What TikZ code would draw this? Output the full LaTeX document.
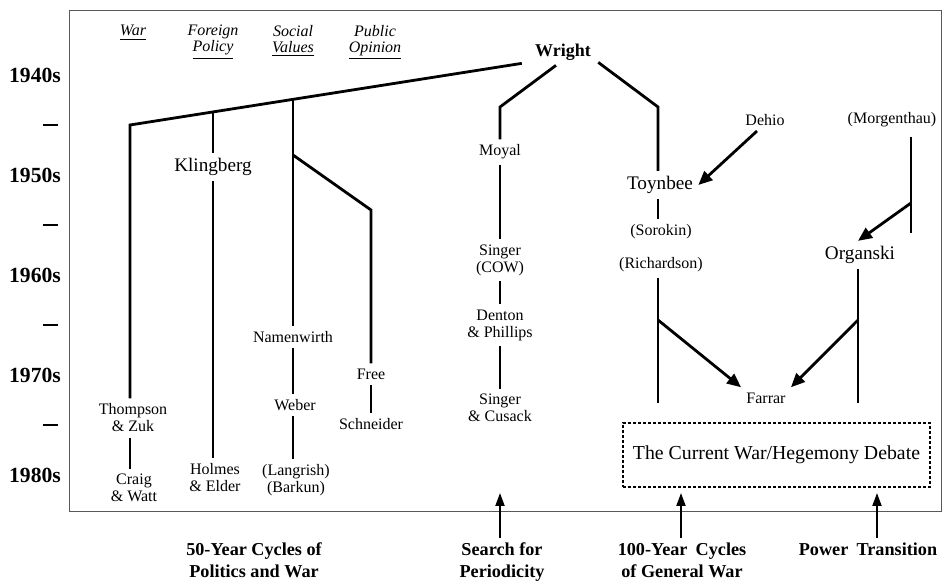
\documentclass[tikz,border=0pt]{standalone}
\usepackage{fontspec}
\setmainfont{Liberation Serif}
\usetikzlibrary{arrows.meta,calc}
\begin{document}
\begin{tikzpicture}[x=0.5pt,y=-0.5pt,
  yr/.style={font=\fontsize{10.8}{12}\selectfont\bfseries, inner sep=0pt},
  hd/.style={font=\fontsize{8}{8}\selectfont\itshape, align=center, anchor=north, inner sep=0pt},
  sm/.style={font=\fontsize{8}{8.5}\selectfont, align=center, inner sep=2.5pt},
  big/.style={font=\fontsize{9.6}{10}\selectfont, inner sep=2.5pt},
  lbl/.style={font=\fontsize{9.1}{11}\selectfont\bfseries, align=center, inner sep=2pt, anchor=north},
  frame/.style={draw=black!65, line width=0.5pt},
  ln/.style={line width=1.4pt, line join=miter},
  tick/.style={line width=1.4pt},
  arr/.style={line width=1.4pt, -{Triangle[length=7pt,width=6pt]}},
  uparr/.style={line width=1pt, -{Triangle[length=6.5pt,width=4.5pt]}},
  dbox/.style={draw, dashed, dash pattern=on 1.5pt off 1pt, line width=0.6pt, minimum width=153.5pt, minimum height=32pt, inner sep=0pt, font=\fontsize{9.9}{11}\selectfont}
]
\useasboundingbox (0,0) rectangle (942,581);
\draw[frame] (69,11) rectangle (941,512);

% decade axis
\node[yr] (y40) at (35,75) {1940s};
\node[yr] (y50) at (35,175) {1950s};
\node[yr] (y60) at (35,275) {1960s};
\node[yr] (y70) at (35,375) {1970s};
\node[yr] (y80) at (35,475) {1980s};
\foreach \t in {125,225,325,425} \draw[tick] (43,\t) -- (58,\t);

% column headers
\node[hd] (hwar) at (133,25) {\underline{War}};
\node[hd] (hfp) at (213,25) {Foreign\\\underline{Policy}};
\node[hd] (hsv) at (293,25) {Social\\\underline{Values}};
\node[hd] (hpo) at (375,25) {Public\\\underline{Opinion}};

% root
\node[font=\fontsize{9}{10}\selectfont\bfseries, inner sep=0pt, anchor=base] (wright) at (563,57) {Wright};
\coordinate (wl) at ([xshift=-6.5pt,yshift=-1pt]wright.south west);
\coordinate (ws) at ([xshift=-3.5pt,yshift=-2pt]wright.south);
\coordinate (wr) at ([xshift=3.5pt,yshift=-0.5pt]wright.south east);

% 50-year branch
\coordinate (c-war) at (130,125);
\coordinate (c-fp) at ($(c-war)!0.2117!(wl)$);
\coordinate (c-sv) at ($(c-war)!0.4158!(wl)$);
\coordinate (c-po) at (293,155);
\coordinate (c-po2) at (371,210);

\node[sm] (thompson) at (133,418) {Thompson\\\& Zuk};
\node[sm] (craig) at (134,488) {Craig\\\& Watt};
\node[big] (klingberg) at (213,167) {Klingberg};
\node[sm] (holmes) at (215,478) {Holmes\\\& Elder};
\node[sm] (namenwirth) at (293,337) {Namenwirth};
\node[sm] (weber) at (295,405) {Weber};
\node[sm] (langrish) at (296,480) {(Langrish)\\(Barkun)};
\node[sm] (free) at (371,374) {Free};
\node[sm] (schneider) at (371,424) {Schneider};

\draw[ln] (wl) -- (c-war) -- (c-war |- thompson.north);
\draw[ln] (c-war |- thompson.south) -- (c-war |- craig.north);
\draw[ln] (c-fp) -- (c-fp |- klingberg.north);
\draw[ln] (c-fp |- klingberg.south) -- (c-fp |- holmes.north);
\draw[ln] (c-sv) -- (c-sv |- namenwirth.north);
\draw[ln] (c-sv |- namenwirth.south) -- (c-sv |- weber.north);
\draw[ln] (c-sv |- weber.south) -- (c-sv |- langrish.north);
\draw[ln] (c-po) -- (c-po2) -- (free.north);
\draw[ln] (free.south) -- (schneider.north);

% search for periodicity
\coordinate (c-se) at (500,107);
\node[sm] (moyal) at (500,152) {Moyal};
\node[sm] (singercow) at (500,260) {Singer\\(COW)};
\node[sm] (denton) at (500,325) {Denton\\\& Phillips};
\node[sm] (cusack) at (500,408) {Singer\\\& Cusack};
\draw[ln] (ws) -- (c-se) -- (moyal.north);
\draw[ln] (moyal.south) -- (singercow.north);
\draw[ln] (singercow.south) -- (denton.north);
\draw[ln] (denton.south) -- (cusack.north);

% 100-year cycles
\coordinate (c-hy) at (658,107);
\node[big] (toynbee) at (660,185) {Toynbee};
\node[sm] (sorokin) at (661,232) {(Sorokin)};
\node[sm] (richardson) at (661,265) {(Richardson)};
\node[sm] (dehio) at (765,120) {Dehio};
\node[sm] (farrar) at (766,398) {Farrar};
\coordinate (c-hyb) at (658,320);
\coordinate (c-hyend) at (658,403);
\draw[ln] (wr) -- (c-hy) -- (c-hy |- toynbee.north);
\draw[ln] (c-hy |- toynbee.south) -- (c-hy |- sorokin.north);
\draw[ln] (c-hy |- richardson.south) -- (c-hyend);
\draw[arr] (c-hyb) -- (farrar.north west);
\draw[arr] ([xshift=-4pt]dehio.south) -- (toynbee.east);

% power transition
\node[sm] (morgenthau) at (892,120) {(Morgenthau)};
\node[big] (organski) at (860,255) {Organski};
\coordinate (c-mo2) at (911,233);
\coordinate (c-mob) at (911,203);
\coordinate (c-ptb) at (858,320);
\coordinate (c-ptend) at (858,403);
\draw[ln] ([xshift=9.5pt,yshift=-2pt]morgenthau.south) -- (c-mo2);
\draw[arr] (c-mob) -- ([xshift=-1pt]organski.north);
\draw[ln] (c-ptend |- organski.south) -- (c-ptend);
\draw[arr] (c-ptb) -- (farrar.north east);

% debate box
\node[dbox] (debate) at (776.5,455) {The Current War/Hegemony Debate};

% bottom labels
\node[lbl] (fifty) at (254,538) {50-Year Cycles of\\Politics and War};
\node[lbl] (search) at (502,538) {Search for\\Periodicity};
\node[lbl] (hundred) at (682,538) {100-Year\hspace{0.45em}Cycles\\of General War};
\node[lbl] (power) at (868,538) {Power\hspace{0.45em}Transition};
\coordinate (a-se) at (500,493);
\coordinate (a-hy) at (681,493);
\coordinate (a-pt) at (877,493);
\draw[uparr] (a-se |- search.north) -- (a-se);
\draw[uparr] (a-hy |- hundred.north) -- (a-hy);
\draw[uparr] (a-pt |- power.north) -- (a-pt);
\end{tikzpicture}
\end{document}
